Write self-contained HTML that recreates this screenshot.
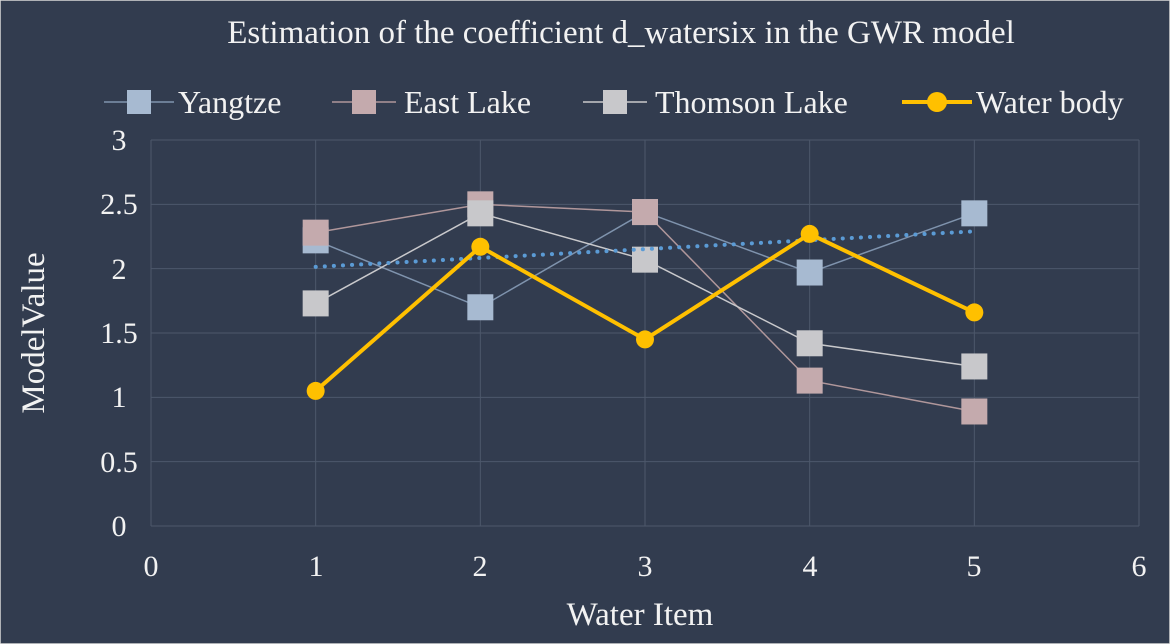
<!DOCTYPE html>
<html><head><meta charset="utf-8"><style>
html,body{margin:0;padding:0;background:#323c4f;}
svg{display:block;font-family:"Liberation Serif",serif;}
.t{font-family:"Liberation Serif",serif;fill:#f2f2f2;}
</style></head><body>
<svg id="chart" width="1170" height="644" viewBox="0 0 1170 644">
<rect x="0" y="0" width="1170" height="644" fill="#323c4f" stroke="#d9d9d9" stroke-width="1.5"/>
<text class="t" x="621" y="43" font-size="33" text-anchor="middle">Estimation of the coefficient d_watersix in the GWR model</text>
<g id="grid"></g>
<g id="axes" font-size="30" text-anchor="middle">
<text class="t" x="119" y="536">0</text>
<text class="t" x="119" y="472">0.5</text>
<text class="t" x="119" y="407">1</text>
<text class="t" x="119" y="343">1.5</text>
<text class="t" x="119" y="279">2</text>
<text class="t" x="119" y="214">2.5</text>
<text class="t" x="119" y="150">3</text>
<text class="t" x="151" y="576">0</text>
<text class="t" x="316" y="576">1</text>
<text class="t" x="480" y="576">2</text>
<text class="t" x="645" y="576">3</text>
<text class="t" x="810" y="576">4</text>
<text class="t" x="974" y="576">5</text>
<text class="t" x="1139" y="576">6</text>
</g>
<g id="series"></g>
<g id="legend"></g>
<g font-size="32">
<text class="t" x="178" y="113">Yangtze</text>
<text class="t" x="404" y="113">East Lake</text>
<text class="t" x="655" y="113">Thomson Lake</text>
<text class="t" x="976" y="113">Water body</text>
</g>
<text class="t" x="640" y="625" font-size="33" text-anchor="middle">Water Item</text>
<text class="t" transform="translate(44,333) rotate(-90)" font-size="33" text-anchor="middle">ModelValue</text>
</svg>
<script>
const xTicks=[0,1,2,3,4,5,6];
const yTicks=[0,0.5,1,1.5,2,2.5,3];
const categories=[1,2,3,4,5];
const yangtze=[2.22,1.70,2.44,1.97,2.43];
const eastLake=[2.28,2.50,2.44,1.13,0.89];
const thomson=[1.73,2.43,2.07,1.42,1.24];
const waterBody=[1.05,2.17,1.45,2.27,1.66];

const NS="http://www.w3.org/2000/svg";
const X0=151,X1=1139,Y0=526,Y1=140;
function sx(v){return X0+(v-0)/(6-0)*(X1-X0);}
function sy(v){return Y0-(v-0)/(3-0)*(Y0-Y1);}
function mk(tag,attrs,parent){const e=document.createElementNS(NS,tag);for(const k in attrs)e.setAttribute(k,attrs[k]);parent.appendChild(e);return e;}
const grid=document.getElementById('grid'),ser=document.getElementById('series'),leg=document.getElementById('legend');
yTicks.forEach(t=>{
  const l=mk('line',{x1:X0,x2:X1,y1:sy(t),y2:sy(t),stroke:'#4d586b','stroke-width':1},grid);
  
  
});
xTicks.forEach(t=>{
  const l=mk('line',{x1:sx(t),x2:sx(t),y1:Y0,y2:Y1,stroke:'#4d586b','stroke-width':1},grid);
  
  
});
function drawSquares(vals,line,fill,name){
  const g=mk('g',{},ser);
  
  
  const p=mk('polyline',{points:vals.map((v,i)=>sx(categories[i])+','+sy(v)).join(' '),fill:'none',stroke:line,'stroke-width':1.5},g);
  
  
  vals.forEach((v,i)=>{
    const r=mk('rect',{x:sx(categories[i])-13,y:sy(v)-13,width:26,height:26,fill:fill},g);
    
    
  });
}
drawSquares(yangtze,'#7f93ad','#a7bad1','yangtze');
drawSquares(eastLake,'#b0979b','#c4aaad','east-lake');
drawSquares(thomson,'#c9c9cc','#c8c8cb','thomson-lake');
(function(){
  const n=categories.length;const mx=categories.reduce((a,b)=>a+b)/n;const my=yangtze.reduce((a,b)=>a+b)/n;
  let num=0,den=0;categories.forEach((x,i)=>{num+=(x-mx)*(yangtze[i]-my);den+=(x-mx)*(x-mx);});
  const b=num/den,a=my-b*mx;const xa=categories[0],xb=categories[n-1];
  const t=mk('line',{x1:sx(xa),y1:sy(a+b*xa),x2:sx(xb),y2:sy(a+b*xb),stroke:'#5b9bd5','stroke-width':4,'stroke-dasharray':'0.1 9','stroke-linecap':'round'},ser);
  
  
})();
(function(){
  const g=mk('g',{},ser);
  
  
  const p=mk('polyline',{points:waterBody.map((v,i)=>sx(categories[i])+','+sy(v)).join(' '),fill:'none',stroke:'#ffc000','stroke-width':4,'stroke-linejoin':'round'},g);
  
  
  waterBody.forEach((v,i)=>{
    const c=mk('circle',{cx:sx(categories[i]),cy:sy(v),r:9,fill:'#ffc000'},g);
    
    
  });
})();
const legItems=[{x:104,w:70,line:'#7f93ad',fill:'#a7bad1'},{x:332,w:64,line:'#b0979b',fill:'#c4aaad'},{x:583,w:64,line:'#c9c9cc',fill:'#c8c8cb'},{x:902,w:70,line:'#ffc000',fill:'#ffc000',circle:true}];
legItems.forEach(it=>{
  const g=mk('g',{},leg);
  
  
  const cy=102;
  mk('line',{x1:it.x,x2:it.x+it.w,y1:cy,y2:cy,stroke:it.line,'stroke-width':it.circle?4:1.5},g);
  const mid=it.x+it.w/2;
  if(it.circle)mk('circle',{cx:mid,cy:cy,r:10,fill:it.fill},g);
  else mk('rect',{x:mid-12,y:cy-12,width:24,height:24,fill:it.fill},g);
});
</script>
</body></html>
